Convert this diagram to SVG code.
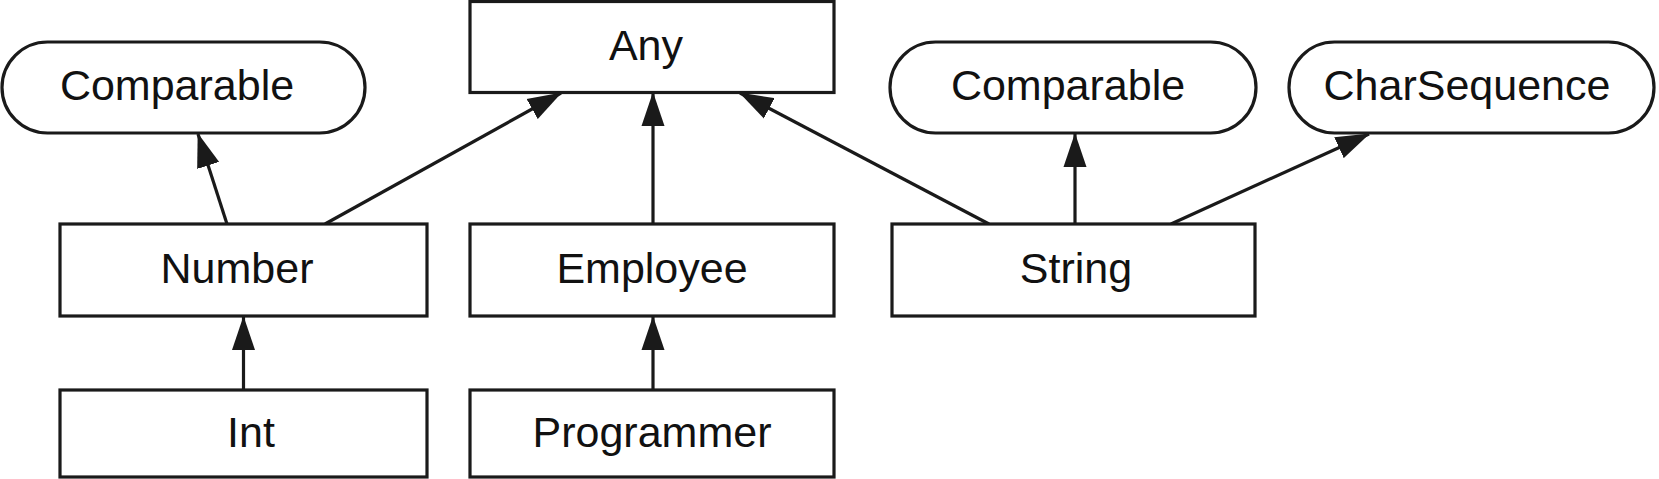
<svg xmlns="http://www.w3.org/2000/svg" width="1659" height="479" viewBox="0 0 1659 479">
<style>
.box{fill:#fff;stroke:#1a1a1a;stroke-width:3.2}
.lbl{font-family:"Liberation Sans",Arial,sans-serif;font-size:43px;fill:#111;text-anchor:middle}
.edge{stroke:#1a1a1a;stroke-width:3.2;fill:none;marker-end:url(#arr)}
</style>
<defs>
<marker id="arr" markerUnits="userSpaceOnUse" markerWidth="34" markerHeight="24" viewBox="0 0 34 24" refX="33" refY="12" orient="auto">
<path d="M0,0.5 L34,12 L0,23.5 z" fill="#1a1a1a"/>
</marker>
</defs>
<rect width="1659" height="479" fill="#fff"/>
<g id="connectors">
<line class="edge" x1="227" y1="224" x2="198" y2="134"/>
<line class="edge" x1="325" y1="224" x2="561" y2="93"/>
<line class="edge" x1="653" y1="224" x2="653" y2="93"/>
<line class="edge" x1="989" y1="224" x2="740" y2="93"/>
<line class="edge" x1="1075" y1="224" x2="1075" y2="134"/>
<line class="edge" x1="1171" y1="224" x2="1369" y2="134"/>
<line class="edge" x1="243.5" y1="390" x2="243.5" y2="317"/>
<line class="edge" x1="653" y1="390" x2="653" y2="317"/>
</g>
<g id="any"><rect class="box" x="470" y="1.5" width="364" height="91"/><text class="lbl" x="646" y="60">Any</text></g>
<g id="comparable1"><rect class="box" x="2" y="42" width="363" height="91" rx="45.5"/><text class="lbl" x="177" y="100">Comparable</text></g>
<g id="comparable2"><rect class="box" x="890" y="42" width="366" height="91" rx="45.5"/><text class="lbl" x="1068" y="100">Comparable</text></g>
<g id="charsequence"><rect class="box" x="1289" y="42" width="365" height="91" rx="45.5"/><text class="lbl" x="1467" y="100">CharSequence</text></g>
<g id="number"><rect class="box" x="60" y="224" width="367" height="92"/><text class="lbl" x="237" y="283">Number</text></g>
<g id="employee"><rect class="box" x="470" y="224" width="364" height="92"/><text class="lbl" x="652" y="283">Employee</text></g>
<g id="string"><rect class="box" x="892" y="224" width="363" height="92"/><text class="lbl" x="1076" y="283">String</text></g>
<g id="int"><rect class="box" x="60" y="390" width="367" height="87"/><text class="lbl" x="251" y="447">Int</text></g>
<g id="programmer"><rect class="box" x="470" y="390" width="364" height="87"/><text class="lbl" x="652" y="447">Programmer</text></g>
</svg>
